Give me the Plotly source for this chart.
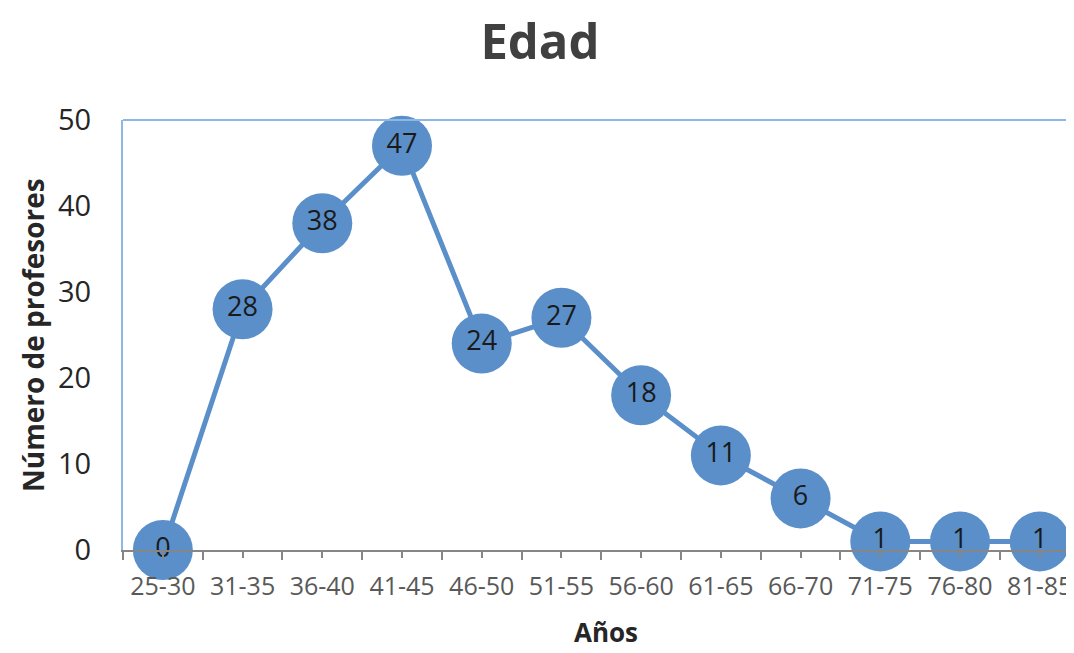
import plotly.graph_objects as go

categorias = ['25-30', '31-35', '36-40', '41-45', '46-50', '51-55',
              '56-60', '61-65', '66-70', '71-75', '76-80', '81-85']
profesores = [0, 28, 38, 47, 24, 27, 18, 11, 6, 1, 1, 1]

azul = '#5B8FC9'
borde = '#8DB8E6'
fuente = 'Open Sans'

posiciones = list(range(len(categorias)))

fig = go.Figure()

fig.add_trace(go.Scatter(
    x=posiciones, y=profesores,
    mode='lines+markers+text',
    line=dict(color=azul, width=5),
    marker=dict(color=azul, size=60, line=dict(width=0)),
    text=[str(v) for v in profesores],
    textposition='middle center',
    textfont=dict(family=fuente, size=27, color='#1a1a1a'),
    cliponaxis=False,
    hoverinfo='skip',
))

# la página añade 8 px de margen del body: la figura se ajusta a lo que queda visible
fig.update_layout(
    width=1066, height=645,
    paper_bgcolor='white', plot_bgcolor='white',
    margin=dict(l=115, r=0, t=112, b=103),
    showlegend=False,
    title=dict(text='<b>Edad</b>', x=0.499, xanchor='center', y=0.948, yanchor='middle',
               font=dict(family=fuente, size=49, color='#404040')),
    xaxis=dict(
        range=[-0.5, 11.43], automargin=False,
        tickmode='array', tickvals=posiciones, ticktext=categorias,
        tickfont=dict(family=fuente, size=25, color='#595959'),
        ticks='outside', ticklen=6, tickcolor='#868686', tickwidth=1.5,
        ticklabelstandoff=7,
        minor=dict(tickmode='linear', tick0=-0.5, dtick=1, ticks='outside',
                   ticklen=8, tickcolor='#868686', tickwidth=1.5),
        showline=True, linecolor='#868686', linewidth=2,
        showgrid=False, zeroline=False,
    ),
    yaxis=dict(
        range=[0, 50], dtick=10, automargin=False,
        tickfont=dict(family=fuente, size=29, color='#262626'),
        ticks='', ticklabelstandoff=24,
        showline=True, linecolor=borde, linewidth=2,
        showgrid=False, zeroline=False,
    ),
    shapes=[dict(type='line', xref='paper', yref='paper', x0=0, x1=1, y0=1, y1=1,
                 line=dict(color=borde, width=2))],
    annotations=[
        dict(text='<b>Años</b>', xref='paper', yref='paper', x=(598 - 115) / 951, y=-82 / 430,
             xanchor='center', yanchor='middle', showarrow=False,
             font=dict(family=fuente, size=26, color='#262626')),
        dict(text='<b>Número de profesores</b>', xref='paper', yref='paper', x=-90 / 951, y=0.5,
             xanchor='center', yanchor='middle', textangle=-90, showarrow=False,
             font=dict(family=fuente, size=28, color='#262626')),
    ],
)

fig.write_html("out.html")
